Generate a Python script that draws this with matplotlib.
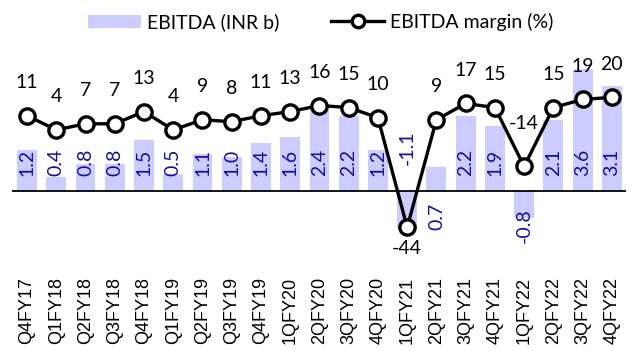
import matplotlib
matplotlib.use("Agg")
import matplotlib.pyplot as plt
from matplotlib.patches import Patch
from matplotlib.lines import Line2D

# %% Data
quarters = ["Q4FY17", "Q1FY18", "Q2FY18", "Q3FY18", "Q4FY18", "Q1FY19", "Q2FY19",
            "Q3FY19", "Q4FY19", "1QFY20", "2QFY20", "3QFY20", "4QFY20", "1QFY21",
            "2QFY21", "3QFY21", "4QFY21", "1QFY22", "2QFY22", "3QFY22", "4QFY22"]
ebitda = [1.2, 0.4, 0.8, 0.8, 1.5, 0.5, 1.1, 1.0, 1.4, 1.6, 2.4, 2.2, 1.2, -1.1,
          0.7, 2.2, 1.9, -0.8, 2.1, 3.6, 3.1]
margin = [11, 4, 7, 7, 13, 4, 9, 8, 11, 13, 16, 15, 10, -44, 9, 17, 15, -14, 15, 19, 20]

bar_color = "#ccccff"
label_blue = "#1010a0"
label_font = "Lato"
tick_font = "Liberation Sans"

# %% Figure
fig = plt.figure(figsize=(6.37, 3.51), dpi=100)
ax = fig.add_axes([0.0195, 0.2735, 0.964, 0.684])
x = list(range(len(quarters)))

ax.bar(x, ebitda, width=0.68, color=bar_color, zorder=1)
ax.axhline(0, color="black", lw=1.3, zorder=2)
ax.set_xlim(-0.5, len(quarters) - 0.5)
ax.set_ylim(-1.88, 5.18)

# bar labels sit near the base, a few are moved to the other side of the axis
for i, v in enumerate(ebitda):
    if quarters[i] == "1QFY21":
        y, va = 0.76, "bottom"
    elif quarters[i] == "2QFY21":
        y, va = -0.35, "top"
    elif quarters[i] == "1QFY22":
        y, va = -0.5, "top"
    else:
        y, va = 0.44, "bottom"
    ax.text(i, y, f"{v:.1f}", rotation=90, ha="center", va=va,
            color=label_blue, fontsize=14, family=label_font, zorder=3)

ax.set_yticks([])
ax.set_xticks(x)
ax.set_xticklabels(quarters, rotation=90, family=tick_font, fontsize=13, va="top")
ax.tick_params(axis="x", length=0, pad=16)
for s in ax.spines.values():
    s.set_visible(False)

# Margin line on second axis
ax2 = ax.twinx()
ax2.plot(x, margin, color="black", lw=2.4, marker="o", markersize=11,
         markerfacecolor="white", markeredgecolor="black", markeredgewidth=2.4, zorder=5)
ax2.set_ylim(-57.6, 60.6)
ax2.set_yticks([])
for s in ax2.spines.values():
    s.set_visible(False)

for i, m in enumerate(margin):
    if m == -44:
        off = -15
    elif m == -14:
        off = 31
    else:
        off = 24
    ax2.annotate(f"{m}", (i, m), xytext=(0, off), textcoords="offset points",
                 ha="center", va="center", fontsize=14, family=label_font, color="black")

# Legend
handles = [Patch(facecolor=bar_color, edgecolor="none"),
           Line2D([0], [0], color="black", lw=2.4, marker="o", markersize=9,
                  markerfacecolor="white", markeredgewidth=2.4)]
leg = fig.legend(handles, ["EBITDA (INR b)", "EBITDA margin (%)"], ncol=2, frameon=False,
                 loc="center", bbox_to_anchor=(0.5035, 0.937), numpoints=1,
                 handlelength=2.7, handleheight=0.7, handletextpad=0.3, columnspacing=2.7,
                 prop={"family": label_font, "size": 14})

fig.savefig("out.png", dpi=100)
